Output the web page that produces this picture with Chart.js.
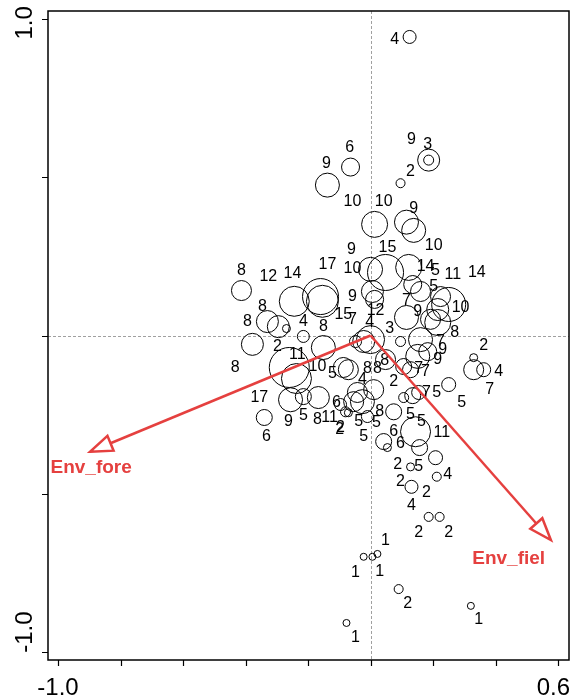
<!DOCTYPE html>
<html>
<head>
<meta charset="utf-8">
<script src="https://cdn.jsdelivr.net/npm/chart.js@4.4.0/dist/chart.umd.min.js"></script>
<style>
html, body { margin: 0; padding: 0; background: #fff; }
#wrap { width: 571px; height: 698px; }
</style>
</head>
<body>
<div id="wrap"><canvas id="ordination" width="571" height="698"></canvas></div>
<script>
// --- sites (bubble centre in ordination units, bubble weight) ---
const siteX = [0.125, 0.186, 0.186, 0.096, -0.064, -0.138, 0.013, 0.115, 0.138, 0.000,
  0.048, 0.122, 0.006, 0.013, 0.160, 0.215, 0.250, 0.215, 0.115, 0.192,
  0.224, 0.135, -0.413, -0.244, -0.160, -0.154, -0.330, -0.295, -0.269, -0.378,
  -0.215, -0.151, -0.260, -0.237, -0.087, 0.000, -0.022, -0.048, 0.096, 0.160,
  0.151, 0.183, 0.106, 0.128, -0.071, 0.048, -0.256, -0.215, -0.167, -0.340,
  -0.054, -0.026, 0.010, -0.042, -0.071, -0.010, 0.074, 0.106, 0.135, 0.154,
  0.250, 0.042, 0.054, 0.144, 0.157, 0.208, 0.128, 0.212, 0.131, 0.186,
  0.221, -0.022, 0.006, 0.022, 0.090, 0.321, -0.077, 0.330, 0.330, 0.362,
  -0.096, -0.080];
const siteY = [0.943, 0.554, 0.554, 0.481, 0.532, 0.475, 0.351, 0.358, 0.332, 0.209,
  0.199, 0.215, 0.139, 0.114, 0.139, 0.082, 0.098, 0.041, 0.057, 0.051,
  0.123, 0.161, 0.142, 0.108, 0.123, 0.108, 0.044, 0.028, 0.022, -0.028,
  -0.003, -0.038, -0.101, -0.136, -0.101, -0.013, -0.019, -0.019, -0.019, -0.013,
  -0.066, -0.051, -0.098, -0.108, -0.108, -0.076, -0.203, -0.193, -0.196, -0.259,
  -0.209, -0.209, -0.171, -0.180, -0.244, -0.256, -0.241, -0.196, -0.190, -0.180,
  -0.155, -0.335, -0.354, -0.304, -0.354, -0.386, -0.415, -0.446, -0.478, -0.573,
  -0.573, -0.699, -0.699, -0.690, -0.801, -0.854, -0.908, -0.070, -0.108, -0.108,
  -0.218, -0.241];
const siteWeight = [6.5, 11, 5, 4.5, 9, 12, 13, 12, 12, 12,
  18, 13, 11, 9, 10, 11, 17, 13, 12, 10,
  10, 9, 10, 15, 18, 16, 11, 11, 4, 11,
  6, 12, 20, 15, 10, 14, 11, 6, 5, 12,
  12, 9, 8, 8, 10, 10, 12, 8, 11, 8,
  10, 12, 10, 10, 4, 6, 8, 5, 8, 7,
  7, 8, 4, 15, 8, 7, 4, 4.5, 6.5, 4.5,
  4.5, 3.5, 3.5, 3.5, 4.5, 3.5, 3.5, 4, 10, 7,
  6, 5];

// --- site labels ---
const labelText = ['4', '9', '3', '2', '6', '9', '10', '10', '9', '10',
  '9', '15', '10', '14', '5', '11', '14', '8', '12', '14',
  '17', '9', '15', '7', '8', '8', '4', '8', '2', '11',
  '8', '10', '5', '17', '6', '6', '9', '5', '8', '11',
  '2', '12', '4', '3', '7', '9', '10', '5', '8', '7',
  '9', '9', '8', '8', '8', '7', '7', '2', '4', '7',
  '5', '5', '8', '5', '5', '5', '5', '2', '5', '6',
  '6', '11', '2', '5', '4', '2', '2', '4', '2', '2',
  '1', '1', '1', '2', '1', '1', '2', '4', '7'];
const labelX = [0.077, 0.131, 0.183, 0.128, -0.067, -0.141, -0.058, 0.042, 0.138, 0.202,
  -0.061, 0.054, -0.058, 0.176, 0.208, 0.263, 0.340, -0.413, -0.327, -0.250,
  -0.138, -0.058, -0.087, -0.058, -0.346, -0.394, -0.215, -0.151, -0.298, -0.234,
  -0.433, -0.170, -0.122, -0.356, -0.109, -0.333, -0.263, -0.215, -0.170, -0.131,
  -0.096, 0.016, -0.003, 0.061, 0.115, 0.151, 0.288, 0.202, 0.269, 0.224,
  0.231, 0.215, 0.045, -0.010, 0.022, 0.154, 0.176, 0.074, -0.026, 0.179,
  0.212, 0.292, 0.029, -0.038, 0.019, 0.128, 0.163, -0.099, -0.022, 0.074,
  0.096, 0.228, 0.087, 0.154, 0.247, 0.096, 0.179, 0.131, 0.154, 0.250,
  0.048, -0.048, 0.029, 0.119, 0.346, -0.048, 0.362, 0.410, 0.381];
const labelY = [0.934, 0.620, 0.604, 0.519, 0.592, 0.544, 0.424, 0.424, 0.402, 0.285,
  0.272, 0.278, 0.212, 0.218, 0.206, 0.193, 0.199, 0.206, 0.187, 0.196,
  0.225, 0.123, 0.066, 0.051, 0.092, 0.044, 0.044, 0.028, -0.035, -0.060,
  -0.101, -0.098, -0.120, -0.196, -0.212, -0.320, -0.272, -0.253, -0.266, -0.259,
  -0.291, 0.079, 0.041, 0.022, 0.111, 0.076, 0.089, 0.155, 0.009, -0.019,
  -0.044, -0.076, -0.079, -0.104, -0.104, -0.104, -0.114, -0.146, -0.139, -0.180,
  -0.180, -0.212, -0.241, -0.272, -0.275, -0.250, -0.272, -0.297, -0.320, -0.304,
  -0.342, -0.307, -0.408, -0.415, -0.440, -0.462, -0.497, -0.538, -0.623, -0.623,
  -0.649, -0.750, -0.747, -0.848, -0.896, -0.953, -0.032, -0.114, -0.171];

// --- environmental vectors ---
const envNames = ['Env_fore', 'Env_fiel'];
const envX = [-0.897, 0.577];
const envY = [-0.367, -0.646];
const envLabelX = [-0.894, 0.442];
const envLabelY = [-0.418, -0.706];

// --- axes ---
const xRange = [-1.032, 0.635];
const yRange = [-1.025, 1.025];
const xTicks = [-1.0, -0.8, -0.6, -0.4, -0.2, 0.0, 0.2, 0.4, 0.6];
const xTickLabels = ['-1.0', '', '', '', '', '', '', '', '0.6'];
const yTicks = [-1.0, -0.5, 0.0, 0.5, 1.0];
const yTickLabels = ['-1.0', '', '', '', '1.0'];

const RED = '#e5403f';
const FONT = '"Liberation Sans", Arial, sans-serif';

// garis nol putus-putus di bawah lingkaran
const zeroLines = {
  id: 'zeroLines',
  beforeDatasetsDraw(chart) {
    const { ctx, chartArea: a, scales: { x, y } } = chart;
    ctx.save();
    ctx.strokeStyle = '#a0a0a0';
    ctx.lineWidth = 1;
    ctx.setLineDash([3, 2]);
    ctx.beginPath();
    ctx.moveTo(Math.round(x.getPixelForValue(0)) + 0.5, a.top);
    ctx.lineTo(Math.round(x.getPixelForValue(0)) + 0.5, a.bottom);
    ctx.moveTo(a.left, Math.round(y.getPixelForValue(0)) + 0.5);
    ctx.lineTo(a.right, Math.round(y.getPixelForValue(0)) + 0.5);
    ctx.stroke();
    ctx.restore();
  }
};

function drawArrow(ctx, x0, y0, x1, y1) {
  const ang = Math.atan2(y1 - y0, x1 - x0);
  const len = 22, half = 8;
  const bx = x1 - len * Math.cos(ang), by = y1 - len * Math.sin(ang);
  ctx.beginPath();
  ctx.moveTo(x0, y0);
  ctx.lineTo(bx, by);
  ctx.stroke();
  ctx.beginPath();
  ctx.moveTo(x1, y1);
  ctx.lineTo(bx + half * Math.sin(ang), by - half * Math.cos(ang));
  ctx.lineTo(bx - half * Math.sin(ang), by + half * Math.cos(ang));
  ctx.closePath();
  ctx.stroke();
}

// label, panah, bingkai dan tick
const overlay = {
  id: 'overlay',
  afterDatasetsDraw(chart) {
    const { ctx, chartArea: a, scales: { x, y } } = chart;
    ctx.save();

    // site labels
    ctx.fillStyle = '#000';
    ctx.font = '16px ' + FONT;
    ctx.textAlign = 'center';
    ctx.textBaseline = 'middle';
    labelText.forEach((t, i) => {
      ctx.fillText(t, x.getPixelForValue(labelX[i]), y.getPixelForValue(labelY[i]));
    });

    // env arrows
    ctx.strokeStyle = RED;
    ctx.lineWidth = 2.5;
    ctx.lineJoin = 'miter';
    const ox = x.getPixelForValue(0), oy = y.getPixelForValue(0);
    envNames.forEach((n, i) => {
      drawArrow(ctx, ox, oy, x.getPixelForValue(envX[i]), y.getPixelForValue(envY[i]));
    });
    ctx.fillStyle = RED;
    ctx.font = 'bold 19px ' + FONT;
    envNames.forEach((n, i) => {
      ctx.fillText(n, x.getPixelForValue(envLabelX[i]), y.getPixelForValue(envLabelY[i]));
    });

    // frame
    ctx.strokeStyle = '#000';
    ctx.lineWidth = 1.5;
    ctx.strokeRect(a.left, a.top, a.right - a.left, a.bottom - a.top);

    // ticks
    ctx.lineWidth = 1.2;
    ctx.beginPath();
    xTicks.forEach(v => {
      const px = Math.round(x.getPixelForValue(v)) + 0.5;
      ctx.moveTo(px, a.bottom);
      ctx.lineTo(px, a.bottom + 6);
    });
    yTicks.forEach(v => {
      const py = Math.round(y.getPixelForValue(v)) + 0.5;
      ctx.moveTo(a.left, py);
      ctx.lineTo(a.left - 6, py);
    });
    ctx.stroke();

    ctx.fillStyle = '#000';
    ctx.font = '24px ' + FONT;
    ctx.textBaseline = 'middle';
    xTicks.forEach((v, i) => {
      if (!xTickLabels[i]) return;
      const px = x.getPixelForValue(v);
      // label terakhir jangan sampai terpotong di tepi kanvas
      ctx.textAlign = v > 0 ? 'right' : 'center';
      ctx.fillText(xTickLabels[i], v > 0 ? Math.min(px + 18, 570) : px, a.bottom + 28);
    });
    ctx.textAlign = 'center';
    yTicks.forEach((v, i) => {
      if (!yTickLabels[i]) return;
      const py = y.getPixelForValue(v) + (v > 0 ? 4 : -20);
      ctx.save();
      ctx.translate(25, py);
      ctx.rotate(-Math.PI / 2);
      ctx.fillText(yTickLabels[i], 0, 0);
      ctx.restore();
    });

    ctx.restore();
  }
};

const ctx = document.getElementById('ordination').getContext('2d');
new Chart(ctx, {
  type: 'bubble',
  data: {
    datasets: [{
      data: siteX.map((v, i) => ({ x: v, y: siteY[i], r: siteWeight[i] })),
      backgroundColor: 'rgba(0,0,0,0)',
      borderColor: '#000',
      borderWidth: 1,
      hoverRadius: 0
    }]
  },
  options: {
    responsive: false,
    animation: false,
    layout: { autoPadding: false, padding: { left: 48, right: 2, top: 11, bottom: 38 } },
    plugins: { legend: { display: false }, tooltip: { enabled: false } },
    scales: {
      x: { type: 'linear', min: xRange[0], max: xRange[1], display: false },
      y: { type: 'linear', min: yRange[0], max: yRange[1], display: false }
    }
  },
  plugins: [zeroLines, overlay]
});
</script>
</body>
</html>
